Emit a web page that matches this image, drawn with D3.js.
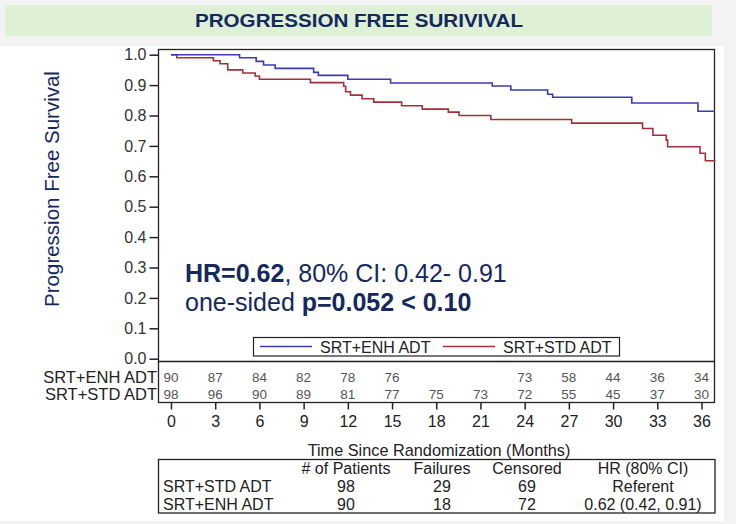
<!DOCTYPE html>
<html><head><meta charset="utf-8">
<script src="https://cdn.jsdelivr.net/npm/d3@7"></script>
<style>
html,body{margin:0;padding:0;background:#f3f3f3;}
svg{display:block;font-family:"Liberation Sans",Arial,sans-serif;}
</style></head>
<body><svg id="c" width="736" height="524"></svg>
<script>
// ---- data ----
const title = "PROGRESSION FREE SURIVIVAL";
const yTitle = "Progression Free Survival";
const xTitle = "Time Since Randomization (Months)";
const seriesNames = ["SRT+ENH ADT", "SRT+STD ADT"];
const enhTimes  = [0, 4.65, 5.78, 6.28, 7.07, 9.68, 10.0, 12.0, 14.9, 21.8, 23.06, 25.56, 25.9, 31.27, 35.76, 36.9];
const enhValues = [1.0, 0.990, 0.978, 0.966, 0.955, 0.942, 0.932, 0.919, 0.907, 0.897, 0.884, 0.870, 0.860, 0.841, 0.814, 0.814];
const stdTimes  = [0, 0.39, 2.88, 3.33, 3.85, 4.87, 5.71, 6.0, 9.46, 11.72, 11.85, 12.18, 12.97, 13.76, 15.65, 17.05, 18.82, 19.55, 21.7, 27.19, 32.0, 32.7, 33.6, 33.7, 35.9, 36.26, 36.94];
const stdValues = [1.0, 0.990, 0.980, 0.970, 0.950, 0.940, 0.930, 0.919, 0.908, 0.896, 0.878, 0.867, 0.855, 0.844, 0.832, 0.821, 0.811, 0.800, 0.787, 0.775, 0.757, 0.735, 0.719, 0.697, 0.676, 0.651, 0.651];
const xTicks = [0, 3, 6, 9, 12, 15, 18, 21, 24, 27, 30, 33, 36];
const yTicks = [0, 0.1, 0.2, 0.3, 0.4, 0.5, 0.6, 0.7, 0.8, 0.9, 1.0];
const atRiskEnh = [90, 87, 84, 82, 78, 76, null, null, 73, 58, 44, 36, 34];
const atRiskStd = [98, 96, 90, 89, 81, 77, 75, 73, 72, 55, 45, 37, 30];
const tableHeader = ["", "# of Patients", "Failures", "Censored", "HR (80% CI)"];
const tableRows = [
  ["SRT+STD ADT", "98", "29", "69", "Referent"],
  ["SRT+ENH ADT", "90", "18", "72", "0.62 (0.42, 0.91)"]
];

// ---- drawing ----
const svg = d3.select("#c");
const navy = "#15295f";
const blue = "#3b3bb8";
const red = "#a5303a";

svg.append("rect").attr("width", 736).attr("height", 524).attr("fill", "#f3f3f3");
svg.append("rect").attr("x", 0).attr("y", 46).attr("width", 724).attr("height", 475).attr("fill", "#ffffff");

// title band
svg.append("rect").attr("x", 5).attr("y", 5).attr("width", 707).attr("height", 31).attr("fill", "#def0d5");
svg.append("text").attr("x", 359).attr("y", 27).attr("text-anchor", "middle")
  .attr("font-size", 18).attr("font-weight", "bold").attr("fill", navy)
  .attr("textLength", 328).attr("lengthAdjust", "spacingAndGlyphs").text(title);

const x = d3.scaleLinear().domain([0, 36]).range([171, 701.5]);
const y = d3.scaleLinear().domain([0, 1]).range([358.7, 54.7]);

// plot frame & at-risk box
const L = 158.5, R = 714.5, T = 49.5, B = 361.5, AR = 402.5;
svg.append("rect").attr("x", L).attr("y", T).attr("width", R - L).attr("height", B - T)
  .attr("fill", "none").attr("stroke", "#222").attr("stroke-width", 1.3);
svg.append("rect").attr("x", L).attr("y", B).attr("width", R - L).attr("height", AR - B)
  .attr("fill", "none").attr("stroke", "#222").attr("stroke-width", 1.3);

// y axis
const yAxis = d3.axisLeft(y).tickValues(yTicks).tickFormat(d3.format(".1f")).tickSize(9).tickPadding(3);
const gy = svg.append("g").attr("transform", `translate(${L},0)`).call(yAxis);
gy.select(".domain").remove();
gy.selectAll(".tick line").attr("stroke", "#222").attr("stroke-width", 1.5);
gy.selectAll(".tick text").attr("font-size", 16).attr("fill", "#333")
  .attr("font-family", "Liberation Sans, Arial, sans-serif");

svg.append("text").attr("transform", "translate(59,189) rotate(-90)").attr("text-anchor", "middle")
  .attr("font-size", 20.5).attr("fill", navy).text(yTitle);

// x axis below at-risk box
const xAxis = d3.axisBottom(x).tickValues(xTicks).tickSize(7).tickPadding(6);
const gx = svg.append("g").attr("transform", `translate(0,${AR})`).call(xAxis);
gx.select(".domain").remove();
gx.selectAll(".tick line").attr("stroke", "#222").attr("stroke-width", 1.5);
gx.selectAll(".tick text").attr("font-size", 16).attr("fill", "#222")
  .attr("font-family", "Liberation Sans, Arial, sans-serif");

svg.append("text").attr("x", 439).attr("y", 455.5).attr("text-anchor", "middle")
  .attr("font-size", 16.3).attr("fill", "#222").text(xTitle);

// curves
const line = d3.line().x(d => x(d[0])).y(d => y(d[1])).curve(d3.curveStepAfter);
const enh = enhTimes.map((t, i) => [t, enhValues[i]]);
const std = stdTimes.map((t, i) => [t, stdValues[i]]);
svg.append("path").attr("d", line(std)).attr("fill", "none").attr("stroke", red).attr("stroke-width", 1.6);
svg.append("path").attr("d", line(enh)).attr("fill", "none").attr("stroke", blue).attr("stroke-width", 1.6);

// annotation
const a1 = svg.append("text").attr("x", 185).attr("y", 282).attr("font-size", 25).attr("fill", navy);
a1.append("tspan").attr("font-weight", "bold").text("HR=0.62");
a1.append("tspan").text(", 80% CI: 0.42- 0.91");
const a2 = svg.append("text").attr("x", 185).attr("y", 310.5).attr("font-size", 25).attr("fill", navy);
a2.append("tspan").text("one-sided ");
a2.append("tspan").attr("font-weight", "bold").text("p=0.052 < 0.10");

// legend
svg.append("rect").attr("x", 253.5).attr("y", 337.5).attr("width", 366).attr("height", 18.5)
  .attr("fill", "#fff").attr("stroke", "#222").attr("stroke-width", 1.2);
const legItems = [{name: seriesNames[0], color: blue, x0: 260}, {name: seriesNames[1], color: red, x0: 443}];
legItems.forEach(it => {
  svg.append("line").attr("x1", it.x0).attr("x2", it.x0 + 52).attr("y1", 346.5).attr("y2", 346.5)
    .attr("stroke", it.color).attr("stroke-width", 1.6);
  svg.append("text").attr("x", it.x0 + 60).attr("y", 352.5).attr("font-size", 16).attr("fill", "#222").text(it.name);
});

// at-risk
const riskRows = [{name: seriesNames[0], vals: atRiskEnh, y: 377}, {name: seriesNames[1], vals: atRiskStd, y: 394.5}];
riskRows.forEach(r => {
  svg.append("text").attr("x", 157).attr("y", r.y).attr("dy", "0.35em").attr("text-anchor", "end")
    .attr("font-size", 16.5).attr("fill", "#222").text(r.name);
  svg.append("g").selectAll("text").data(xTicks.map((t, i) => [t, r.vals[i]]).filter(d => d[1] != null))
    .join("text").attr("x", d => x(d[0])).attr("y", r.y).attr("dy", "0.35em").attr("text-anchor", "middle")
    .attr("font-size", 13.5).attr("fill", "#555").text(d => d[1]);
});

// bottom table
svg.append("rect").attr("x", 158.5).attr("y", 459.5).attr("width", 556.5).attr("height", 53.5)
  .attr("fill", "#fff").attr("stroke", "#222").attr("stroke-width", 1.3);
const colX = [163, 346, 442, 527, 643];
const rowY = [468, 486.5, 504];
[tableHeader, ...tableRows].forEach((row, ri) => {
  row.forEach((cell, ci) => {
    if (!cell) return;
    svg.append("text").attr("x", colX[ci]).attr("y", rowY[ri]).attr("dy", "0.35em")
      .attr("text-anchor", ci === 0 ? "start" : "middle")
      .attr("font-size", 16).attr("fill", "#222").text(cell);
  });
});
</script></body></html>
